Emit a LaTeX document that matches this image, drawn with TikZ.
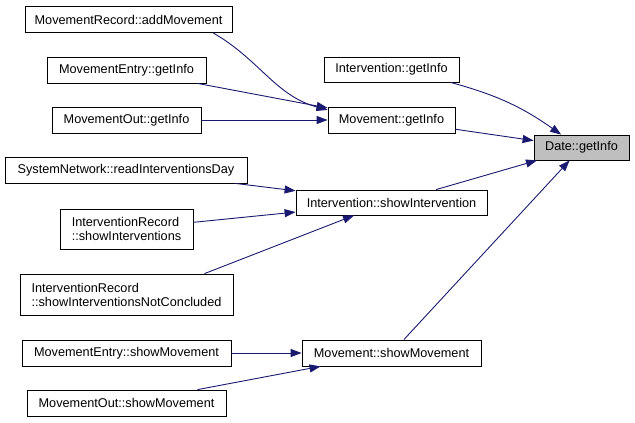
\documentclass[tikz,border=0pt]{standalone}
\usepackage{fontspec}
\setmainfont{Liberation Sans}
\usetikzlibrary{arrows.meta}
\definecolor{callblue}{HTML}{191970}
\definecolor{rootgray}{HTML}{BFBFBF}

\begin{document}
\begin{tikzpicture}[
        x=1pt, y=-1pt,
        every node/.style={font=\fontsize{12.7}{14}\selectfont},
        func/.style={rectangle, draw=black, fill=white, line width=0.8pt, minimum height=26pt, inner sep=2pt, align=left},
        rootfunc/.style={func, fill=rootgray},
        call/.style={-{Triangle[length=11pt, width=8pt]}, draw=callblue, line width=0.9pt}
    ]
%
    \useasboundingbox (0,0) rectangle (635,423);
%
    % Callers (left column)
    \node[func, minimum width=207pt] (mrAdd) at (128.5,19.5) {MovementRecord::addMovement};
    \node[func, minimum width=159pt] (meInfo) at (126.5,70) {MovementEntry::getInfo};
    \node[func, minimum width=149pt] (moInfo) at (126.5,120) {MovementOut::getInfo};
    \node[func, minimum width=242pt] (snRead) at (126,170) {SystemNetwork::readInterventionsDay};
    \node[func, minimum width=133pt, minimum height=40pt] (irShow) at (126.5,229) {InterventionRecord\\::showInterventions};
    \node[func, minimum width=213pt, minimum height=41pt] (irNot) at (126.5,294.5) {InterventionRecord\\::showInterventionsNotConcluded};
    \node[func, minimum width=209pt] (meShow) at (126.5,353) {MovementEntry::showMovement};
    \node[func, minimum width=199pt] (moShow) at (126.5,403) {MovementOut::showMovement};
%
    % Callers (middle column)
    \node[func, minimum width=135pt, minimum height=25pt] (iInfo) at (391.5,69.5) {Intervention::getInfo};
    \node[func, minimum width=127pt] (mInfo) at (391.5,120) {Movement::getInfo};
    \node[func, minimum width=191pt, minimum height=25pt] (iShow) at (391.5,202.5) {Intervention::showIntervention};
    \node[func, minimum width=179pt] (mShow) at (391.5,353) {Movement::showMovement};
%
    % Called function
    \node[rootfunc, minimum width=95pt, minimum height=25pt] (dInfo) at (581.5,147.5) {Date::getInfo};
%
    % Calls into the middle column
    \draw[call] (mrAdd.-9) to[out=-30, in=165] (mInfo.171);
    \draw[call] (meInfo) -- (mInfo);
    \draw[call] (moInfo) -- (mInfo);
    \draw[call] (snRead) -- (iShow);
    \draw[call] (irShow) -- (iShow);
    \draw[call] (irNot.15) -- (iShow.199);
    \draw[call] (meShow) -- (mShow);
    \draw[call] (moShow) -- (mShow);
%
    % Calls into Date::getInfo
    \draw[call] (iInfo) to[bend left=10] (dInfo);
    \draw[call] (mInfo) -- (dInfo);
    \draw[call] (iShow) -- (dInfo);
    \draw[call] (mShow) -- (dInfo);
%
\end{tikzpicture}
\end{document}
